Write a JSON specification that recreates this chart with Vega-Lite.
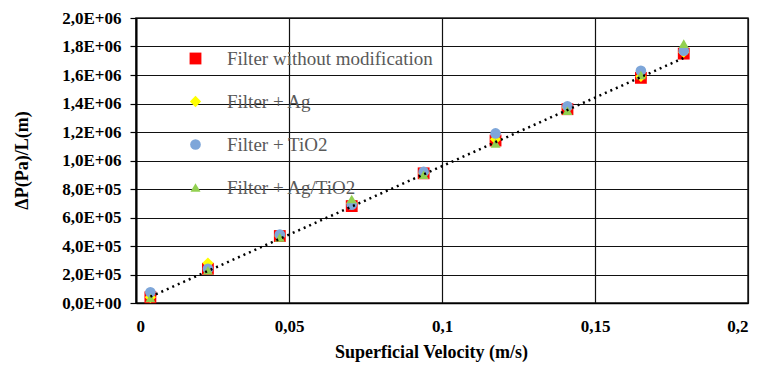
{
  "$schema": "https://vega.github.io/schema/vega-lite/v6.json",
  "width": 612,
  "height": 285,
  "autosize": {"type": "none"},
  "padding": {"left": 136, "top": 18, "right": 25, "bottom": 64},
  "background": "white",
  "config": {
    "view": {"stroke": "#222222", "strokeWidth": 1.5},
    "font": "Liberation Serif"
  },
  "datasets": {
    "pts": [
      {"v": 0.0047, "dp": 40000, "series": "Filter without modification"},
      {"v": 0.0235, "dp": 240000, "series": "Filter without modification"},
      {"v": 0.047, "dp": 470000, "series": "Filter without modification"},
      {"v": 0.0705, "dp": 680000, "series": "Filter without modification"},
      {"v": 0.094, "dp": 910000, "series": "Filter without modification"},
      {"v": 0.1175, "dp": 1140000, "series": "Filter without modification"},
      {"v": 0.141, "dp": 1360000, "series": "Filter without modification"},
      {"v": 0.165, "dp": 1580000, "series": "Filter without modification"},
      {"v": 0.179, "dp": 1750000, "series": "Filter without modification"},
      {"v": 0.0047, "dp": 40000, "series": "Filter + Ag"},
      {"v": 0.0235, "dp": 280000, "series": "Filter + Ag"},
      {"v": 0.047, "dp": 470000, "series": "Filter + Ag"},
      {"v": 0.0705, "dp": 700000, "series": "Filter + Ag"},
      {"v": 0.094, "dp": 910000, "series": "Filter + Ag"},
      {"v": 0.1175, "dp": 1150000, "series": "Filter + Ag"},
      {"v": 0.141, "dp": 1370000, "series": "Filter + Ag"},
      {"v": 0.165, "dp": 1590000, "series": "Filter + Ag"},
      {"v": 0.179, "dp": 1760000, "series": "Filter + Ag"},
      {"v": 0.0047, "dp": 75000, "series": "Filter + TiO2"},
      {"v": 0.0235, "dp": 240000, "series": "Filter + TiO2"},
      {"v": 0.047, "dp": 480000, "series": "Filter + TiO2"},
      {"v": 0.0705, "dp": 690000, "series": "Filter + TiO2"},
      {"v": 0.094, "dp": 920000, "series": "Filter + TiO2"},
      {"v": 0.1175, "dp": 1190000, "series": "Filter + TiO2"},
      {"v": 0.141, "dp": 1380000, "series": "Filter + TiO2"},
      {"v": 0.165, "dp": 1630000, "series": "Filter + TiO2"},
      {"v": 0.179, "dp": 1770000, "series": "Filter + TiO2"},
      {"v": 0.0047, "dp": 35000, "series": "Filter + Ag/TiO2"},
      {"v": 0.0235, "dp": 230000, "series": "Filter + Ag/TiO2"},
      {"v": 0.047, "dp": 460000, "series": "Filter + Ag/TiO2"},
      {"v": 0.0705, "dp": 730000, "series": "Filter + Ag/TiO2"},
      {"v": 0.094, "dp": 900000, "series": "Filter + Ag/TiO2"},
      {"v": 0.1175, "dp": 1120000, "series": "Filter + Ag/TiO2"},
      {"v": 0.141, "dp": 1350000, "series": "Filter + Ag/TiO2"},
      {"v": 0.165, "dp": 1600000, "series": "Filter + Ag/TiO2"},
      {"v": 0.179, "dp": 1820000, "series": "Filter + Ag/TiO2"}
    ],
    "trend": [
      {"v": 0.0047, "dp": 44000},
      {"v": 0.179, "dp": 1720000}
    ]
  },
  "encoding": {
    "x": {
      "field": "v", "type": "quantitative",
      "scale": {"domain": [0, 0.2], "nice": false, "zero": true},
      "axis": {
        "values": [0, 0.05, 0.1, 0.15, 0.2],
        "title": "Superficial Velocity (m/s)",
        "titleFont": "Liberation Serif", "titleFontSize": 18, "titleFontWeight": "bold", "titleColor": "black",
        "titleX": 295, "titleY": 49, "titleBaseline": "middle",
        "labelExpr": "replace(format(datum.value, '~g'), '.', ',')",
        "labelFont": "Liberation Serif", "labelFontSize": 17, "labelFontWeight": "bold", "labelColor": "black",
        "labelPadding": 15,
        "labelOverlap": false,
        "ticks": false,
        "domain": true, "domainColor": "black", "domainWidth": 1.5,
        "grid": true, "gridColor": "#111111", "gridWidth": 1.2
      }
    },
    "y": {
      "field": "dp", "type": "quantitative",
      "scale": {"domain": [0, 2000000], "nice": false},
      "axis": {
        "values": [0, 200000, 400000, 600000, 800000, 1000000, 1200000, 1400000, 1600000, 1800000, 2000000],
        "title": "ΔP(Pa)/L(m)",
        "titleFont": "Liberation Serif", "titleFontSize": 18, "titleFontWeight": "bold", "titleColor": "black",
        "titleX": -114, "titleY": 142, "titleAngle": -90, "titleAlign": "center", "titleBaseline": "middle",
        "labelExpr": "datum.value == 0 ? '0,0E+00' : replace(format(datum.value / pow(10, floor(log(datum.value) / LN10 + 1e-9)), '.1f'), '.', ',') + 'E+' + (floor(log(datum.value) / LN10 + 1e-9) < 10 ? '0' : '') + floor(log(datum.value) / LN10 + 1e-9)",
        "labelFont": "Liberation Serif", "labelFontSize": 17, "labelFontWeight": "bold", "labelColor": "black",
        "labelPadding": 9,
        "labelOverlap": false,
        "ticks": true, "tickSize": 6, "tickColor": "black", "tickWidth": 1.2,
        "domain": true, "domainColor": "black", "domainWidth": 2,
        "grid": true, "gridColor": "#111111", "gridWidth": 1.2
      }
    }
  },
  "layer": [
    {
      "data": {"name": "pts"},
      "mark": {"type": "point", "filled": true, "opacity": 1},
      "encoding": {
        "color": {
          "field": "series", "type": "nominal",
          "scale": {
            "domain": ["Filter without modification", "Filter + Ag", "Filter + TiO2", "Filter + Ag/TiO2"],
            "range": ["#FF0000", "#FFFF00", "#7EA6D9", "#92D050"]
          },
          "legend": {
            "title": null,
            "orient": "none",
            "legendX": 50,
            "legendY": 31,
            "labelFont": "Liberation Serif",
            "labelFontSize": 19,
            "labelColor": "#595959",
            "labelLimit": 0,
            "labelOffset": 22,
            "rowPadding": 23,
            "symbolSize": 140,
            "symbolStrokeWidth": 0
          }
        },
        "shape": {
          "field": "series", "type": "nominal",
          "scale": {
            "domain": ["Filter without modification", "Filter + Ag", "Filter + TiO2", "Filter + Ag/TiO2"],
            "range": ["square", "diamond", "circle", "triangle-up"]
          },
          "legend": null
        },
        "size": {
          "field": "series", "type": "nominal",
          "scale": {
            "domain": ["Filter without modification", "Filter + Ag", "Filter + TiO2", "Filter + Ag/TiO2"],
            "range": [140, 100, 180, 300]
          },
          "legend": null
        }
      }
    },
    {
      "data": {"name": "trend"},
      "mark": {"type": "line", "color": "black", "strokeWidth": 2.5, "strokeDash": [2, 4], "strokeCap": "butt"},
      "encoding": {}
    }
  ]
}
